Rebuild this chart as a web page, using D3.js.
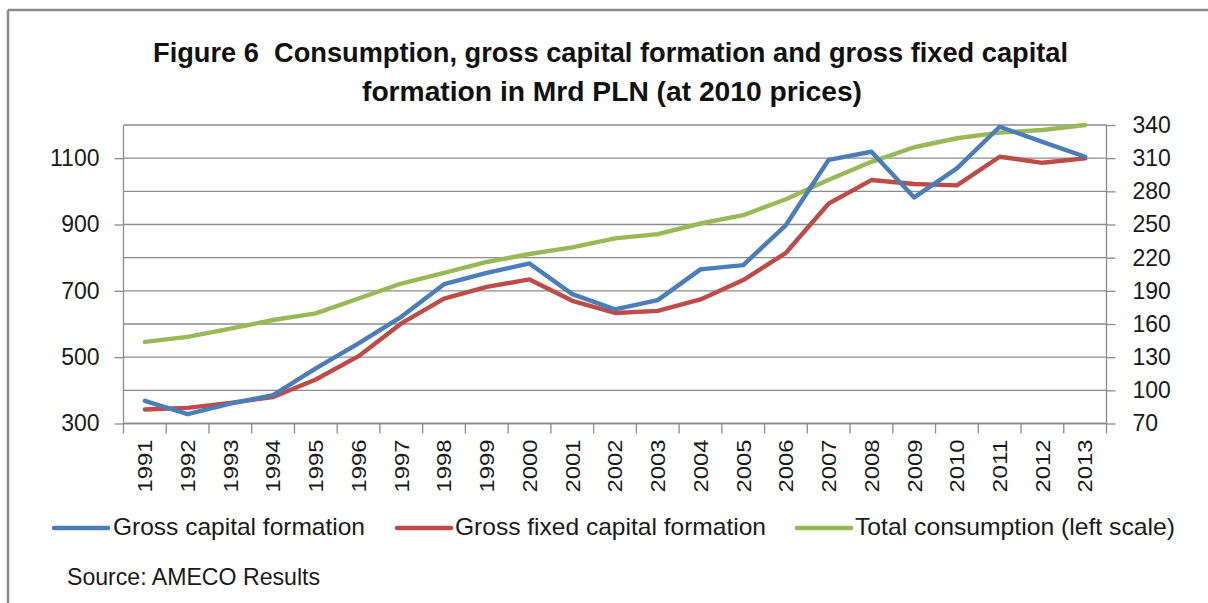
<!DOCTYPE html>
<html>
<head>
<meta charset="utf-8">
<script src="https://cdn.jsdelivr.net/npm/d3@7/dist/d3.min.js"></script>
<style>
  html, body { margin: 0; padding: 0; background: #fff; }
  svg { display: block; }
  text { white-space: pre; }
</style>
</head>
<body>
<svg id="chart" width="1208" height="603"></svg>
<script>
// ---- Data ----
const years = ["1991","1992","1993","1994","1995","1996","1997","1998","1999","2000","2001","2002","2003","2004","2005","2006","2007","2008","2009","2010","2011","2012","2013"];
const grossCapitalFormation = [90.5, 78.4, 88, 95.6, 119.8, 142.4, 166.5, 196, 206.3, 214.8, 187, 173.2, 181.6, 209.4, 213.3, 249.5, 308.5, 315.8, 274.5, 300.8, 338.4, 324.8, 311.3];
const grossFixedCapitalFormation = [82.7, 84.1, 88.6, 94, 109.8, 130.9, 160.5, 183, 193.6, 200.3, 181, 170, 171.9, 182.2, 199.7, 224.4, 269, 290.2, 286.6, 285.4, 311.3, 305.8, 309.8];
const totalConsumption = [546, 561, 586, 612, 632, 677, 722, 754, 787, 811, 831, 858, 871, 903, 928, 976, 1035, 1089, 1133, 1160, 1177, 1185, 1200];
const leftTicks = [300, 500, 700, 900, 1100];
const leftGrid = [300, 400, 500, 600, 700, 800, 900, 1000, 1100, 1200];
const rightTicks = [70, 100, 130, 160, 190, 220, 250, 280, 310, 340];
const titleLines = ["Figure 6  Consumption, gross capital formation and gross fixed capital", "formation in Mrd PLN (at 2010 prices)"];
const seriesNames = ["Gross capital formation", "Gross fixed capital formation", "Total consumption (left scale)"];
const sourceText = "Source: AMECO Results";

const colors = ["#4a7ebb", "#be4b48", "#98b954"];
const gridColor = "#8c8c8c";
const svg = d3.select("#chart");

// frame (top and left edges)
svg.append("line").attr("x1", 8).attr("x2", 1208).attr("y1", 10).attr("y2", 10)
  .attr("stroke", "#8a8a8a").attr("stroke-width", 2.5);
svg.append("line").attr("x1", 8).attr("x2", 8).attr("y1", 10).attr("y2", 603)
  .attr("stroke", "#8a8a8a").attr("stroke-width", 2.5);

// title
const titleFont = "'Liberation Sans Narrow','Liberation Sans',Arial,sans-serif";
svg.append("text").attr("x", 610.5).attr("y", 62).attr("text-anchor", "middle")
  .attr("font-family", titleFont).attr("font-weight", "bold").attr("font-size", 28)
  .attr("textLength", 915).attr("lengthAdjust", "spacingAndGlyphs")
  .attr("fill", "#111").text(titleLines[0]);
svg.append("text").attr("x", 612).attr("y", 101).attr("text-anchor", "middle")
  .attr("font-family", titleFont).attr("font-weight", "bold").attr("font-size", 28)
  .attr("textLength", 500).attr("lengthAdjust", "spacingAndGlyphs")
  .attr("fill", "#111").text(titleLines[1]);

// scales
const x = d3.scaleBand().domain(years).range([123.5, 1106.5]);
const yL = d3.scaleLinear().domain([300, 1200]).range([423.5, 125]);
const yR = d3.scaleLinear().domain([70, 340]).range([423.5, 125]);

// gridlines
svg.append("g").selectAll("line").data(leftGrid).join("line")
  .attr("x1", 123.5).attr("x2", 1106.5)
  .attr("y1", d => yL(d)).attr("y2", d => yL(d))
  .attr("stroke", gridColor).attr("stroke-width", 1.3);

const axisFont = "'Liberation Sans',Arial,sans-serif";

// left axis
const gL = svg.append("g").attr("transform", "translate(123.5,0)")
  .call(d3.axisLeft(yL).tickValues(leftTicks).tickSize(9).tickPadding(15).tickFormat(d3.format("d")));
gL.select(".domain").attr("stroke", gridColor).attr("stroke-width", 1.3).attr("d", `M0,${yL(300)}V${yL(1200)}`);
gL.selectAll(".tick line").attr("stroke", gridColor).attr("stroke-width", 1.3);
gL.selectAll(".tick text").attr("font-family", axisFont).attr("font-size", 23).attr("fill", "#1a1a1a");

// right axis
const gR = svg.append("g").attr("transform", "translate(1106.5,0)")
  .call(d3.axisRight(yR).tickValues(rightTicks).tickSize(9).tickPadding(17).tickFormat(d3.format("d")));
gR.select(".domain").attr("stroke", gridColor).attr("stroke-width", 1.3).attr("d", `M0,${yR(70)}V${yR(340)}`);
gR.selectAll(".tick line").attr("stroke", gridColor).attr("stroke-width", 1.3);
gR.selectAll(".tick text").attr("font-family", axisFont).attr("font-size", 23).attr("fill", "#1a1a1a");

// bottom axis
const gB = svg.append("g").attr("transform", "translate(0,423.5)")
  .call(d3.axisBottom(x).tickSize(0).tickPadding(0));
gB.select(".domain").attr("stroke", gridColor).attr("stroke-width", 1.3).attr("d", "M123.5,0H1106.5");
// category boundary tick marks
const bounds = years.map(y => x(y)).concat([x(years[years.length - 1]) + x.bandwidth()]);
gB.append("g").selectAll("line").data(bounds).join("line")
  .attr("x1", d => d).attr("x2", d => d).attr("y1", 0).attr("y2", 10)
  .attr("stroke", gridColor).attr("stroke-width", 1.3);
gB.selectAll(".tick text")
  .attr("font-family", axisFont).attr("font-size", 21).attr("fill", "#1a1a1a")
  .attr("text-anchor", "end").attr("dy", "0.35em")
  .attr("transform", "translate(0,16) rotate(-90)")
  .attr("y", 0).attr("x", 0)
  .attr("textLength", 53).attr("lengthAdjust", "spacingAndGlyphs");

// lines
const cx = d => x(d) + x.bandwidth() / 2;
const lineR = d3.line().x((d, i) => cx(years[i])).y(d => yR(d));
const lineL = d3.line().x((d, i) => cx(years[i])).y(d => yL(d));
const g = svg.append("g").attr("fill", "none").attr("stroke-width", 4.4)
  .attr("stroke-linejoin", "round").attr("stroke-linecap", "round");
g.append("path").attr("d", lineL(totalConsumption)).attr("stroke", colors[2]);
g.append("path").attr("d", lineR(grossFixedCapitalFormation)).attr("stroke", colors[1]);
g.append("path").attr("d", lineR(grossCapitalFormation)).attr("stroke", colors[0]);

// legend
const legendFont = "'Liberation Sans Narrow','Liberation Sans',Arial,sans-serif";
const legendItems = [
  { x1: 54, x2: 108, tx: 113, w: 252 },
  { x1: 397, x2: 451, tx: 455, w: 311 },
  { x1: 797, x2: 851, tx: 855, w: 320 }
];
const lg = svg.append("g");
legendItems.forEach((it, i) => {
  lg.append("line").attr("x1", it.x1).attr("x2", it.x2).attr("y1", 528).attr("y2", 528)
    .attr("stroke", colors[i]).attr("stroke-width", 4.5).attr("stroke-linecap", "round");
  lg.append("text").attr("x", it.tx).attr("y", 535)
    .attr("font-family", legendFont).attr("font-size", 24).attr("fill", "#1a1a1a")
    .attr("textLength", it.w).attr("lengthAdjust", "spacingAndGlyphs")
    .text(seriesNames[i]);
});

// source
svg.append("text").attr("x", 67).attr("y", 585)
  .attr("font-family", legendFont).attr("font-size", 24).attr("fill", "#1a1a1a")
  .attr("textLength", 253).attr("lengthAdjust", "spacingAndGlyphs")
  .text(sourceText);
</script>
</body>
</html>
